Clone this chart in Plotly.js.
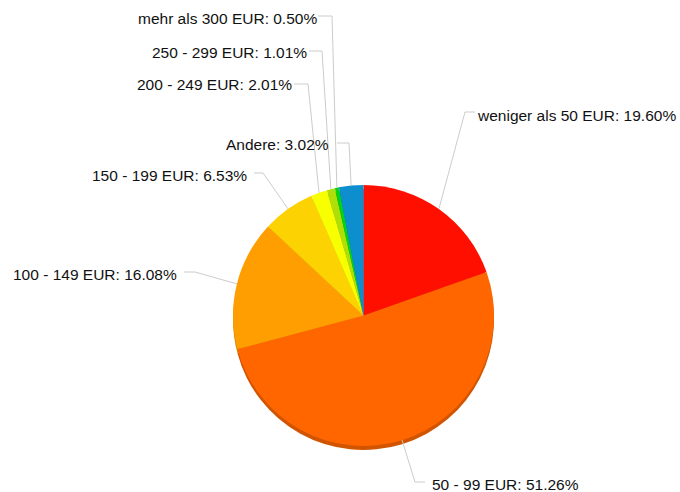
<!DOCTYPE html>
<html>
<head>
<meta charset="utf-8">
<script src="https://cdn.plot.ly/plotly-3.0.1.min.js"></script>
<style>
  html, body { margin: 0; padding: 0; background: #fff; }
  #chart { width: 680px; height: 492px; }
</style>
</head>
<body>
<div id="chart"></div>
<script>
// ---- data ----
const categories = [
  "weniger als 50 EUR",
  "50 - 99 EUR",
  "100 - 149 EUR",
  "150 - 199 EUR",
  "200 - 249 EUR",
  "250 - 299 EUR",
  "mehr als 300 EUR",
  "Andere"
];
const shares = [19.60, 51.26, 16.08, 6.53, 2.01, 1.01, 0.50, 3.02];
const sliceColors = ["#FF0F00", "#FF6600", "#FF9E01", "#FCD202", "#F8FF01", "#B0DE09", "#04D215", "#0D8ECF"];

// ---- layout (label placement, pixels) ----
const W = 680, H = 492;
const cx = 363.5, cy = 315.5, R = 130.5, depth = 4;
// elbow point, end of horizontal stub, text edge, text y, side
const labelPos = [
  {ex: 465, ey: 112, hx: 475, tx: 476, ty: 115, side: "right"},
  {ex: 415, ey: 482, hx: 425, tx: 431, ty: 484, side: "right"},
  {ex: 195, ey: 272, hx: 184, tx: 178, ty: 274, side: "left"},
  {ex: 263, ey: 173, hx: 254, tx: 248, ty: 176, side: "left"},
  {ex: 308, ey: 84,  hx: 294, tx: 293, ty: 85,  side: "left"},
  {ex: 322, ey: 51,  hx: 309, tx: 308, ty: 53,  side: "left"},
  {ex: 332, ey: 16,  hx: 318, tx: 318, ty: 19,  side: "left"},
  {ex: 349, ey: 143, hx: 337, tx: 330, ty: 145, side: "left"}
];

const px = x => x / W;
const py = y => 1 - y / H;

function darken(hex, f) {
  const n = parseInt(hex.slice(1), 16);
  const r = Math.round(((n >> 16) & 255) * f);
  const g = Math.round(((n >> 8) & 255) * f);
  const b = Math.round((n & 255) * f);
  return "rgb(" + r + "," + g + "," + b + ")";
}

const domainX = [px(cx - R), px(cx + R)];
const domainY = [py(cy + R), py(cy - R)];
const shadowY = [py(cy + R + depth), py(cy - R + depth)];

const common = {
  type: "pie",
  labels: categories,
  values: shares,
  sort: false,
  direction: "clockwise",
  rotation: 0,
  textinfo: "none",
  hoverinfo: "label+percent",
  showlegend: false
};

const shadow = Object.assign({}, common, {
  domain: {x: domainX, y: shadowY},
  marker: {colors: sliceColors.map(c => darken(c, 0.82)), line: {width: 0}},
  hoverinfo: "skip"
});
const main = Object.assign({}, common, {
  domain: {x: domainX, y: domainY},
  marker: {colors: sliceColors, line: {width: 0}}
});

// leader lines and labels from slice mid-angles
const total = shares.reduce((a, b) => a + b, 0);
let cum = 0;
const shapes = [];
const annotations = [];
shares.forEach((v, i) => {
  const mid = (cum + v / 2) / total * 2 * Math.PI;
  cum += v;
  const sx = cx + R * Math.sin(mid);
  const sy = cy - R * Math.cos(mid);
  const L = labelPos[i];
  shapes.push({
    type: "path", xref: "paper", yref: "paper",
    path: "M" + px(sx) + "," + py(sy) + " L" + px(L.ex) + "," + py(L.ey) + " L" + px(L.hx) + "," + py(L.ey),
    line: {color: "#cccccc", width: 1}
  });
  annotations.push({
    xref: "paper", yref: "paper",
    x: px(L.tx), y: py(L.ty),
    xanchor: L.side === "right" ? "left" : "right",
    yanchor: "middle",
    showarrow: false,
    borderpad: 0,
    text: categories[i] + ": " + v.toFixed(2) + "%",
    font: {family: "Liberation Sans, Arial, sans-serif", size: 15.5, color: "#111111"}
  });
});

const layout = {
  width: W, height: H,
  margin: {l: 0, r: 0, t: 0, b: 0},
  paper_bgcolor: "#ffffff",
  plot_bgcolor: "#ffffff",
  showlegend: false,
  shapes: shapes,
  annotations: annotations
};

Plotly.newPlot("chart", [shadow, main], layout, {displayModeBar: false, staticPlot: true});
</script>
</body>
</html>
